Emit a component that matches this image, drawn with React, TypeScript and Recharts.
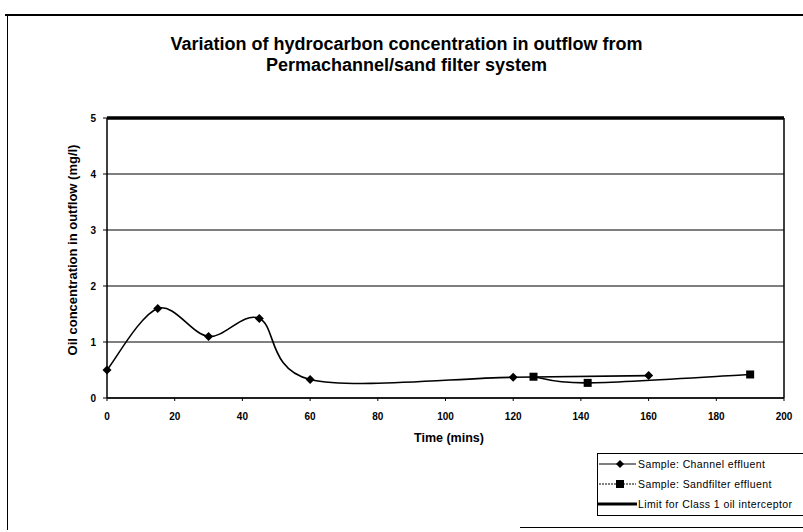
import React from 'react';
import { LineChart, Line, XAxis, YAxis, CartesianGrid, ReferenceLine, Legend } from 'recharts';

const channelTime = [0, 15, 30, 45, 60, 120, 160];
const channelConc = [0.5, 1.6, 1.1, 1.42, 0.33, 0.37, 0.4];
const sandTime = [126, 142, 190];
const sandConc = [0.38, 0.27, 0.42];
const limitTime = [0, 200];
const limitConc = [5, 5];
const xTicks = [0, 20, 40, 60, 80, 100, 120, 140, 160, 180, 200];
const yTicks = [0, 1, 2, 3, 4, 5];
const seriesNames = ['Sample: Channel effluent', 'Sample: Sandfilter effluent', 'Limit for Class 1 oil interceptor'];
const titleLines = ['Variation of hydrocarbon concentration in outflow from', 'Permachannel/sand filter system'];

const channelData = channelTime.map((t, i) => ({ t, v: channelConc[i] }));
const sandData = sandTime.map((t, i) => ({ t, v: sandConc[i] }));
const limitData = limitTime.map((t, i) => ({ t, v: limitConc[i] }));

const FONT = '"Liberation Sans", Arial, sans-serif';

// Excel-like smoothed curve (Catmull-Rom style Bezier)
function excelSmooth(context: any) {
  let pts: number[][] = [];
  return {
    areaStart() {},
    areaEnd() {},
    lineStart() { pts = []; },
    point(x: number, y: number) { pts.push([+x, +y]); },
    lineEnd() {
      const n = pts.length;
      if (!n) return;
      context.moveTo(pts[0][0], pts[0][1]);
      for (let i = 0; i < n - 1; i++) {
        const p0 = pts[i - 1] || pts[i];
        const p1 = pts[i];
        const p2 = pts[i + 1];
        const p3 = pts[i + 2] || p2;
        context.bezierCurveTo(
          p1[0] + (p2[0] - p0[0]) / 6, p1[1] + (p2[1] - p0[1]) / 6,
          p2[0] - (p3[0] - p1[0]) / 6, p2[1] - (p3[1] - p1[1]) / 6,
          p2[0], p2[1]
        );
      }
    },
  };
}

const Diamond = (props: any) => {
  const { cx, cy } = props;
  if (cx == null || cy == null) return null;
  const r = 4.5;
  return <polygon key={`d-${cx}-${cy}`} points={`${cx},${cy - r} ${cx + r},${cy} ${cx},${cy + r} ${cx - r},${cy}`} fill="#000" />;
};
const Square = (props: any) => {
  const { cx, cy } = props;
  if (cx == null || cy == null) return null;
  const s = 8;
  return <rect key={`s-${cx}-${cy}`} x={cx - s / 2} y={cy - s / 2} width={s} height={s} fill="#000" />;
};

const LegendBox = () => (
  <div style={{ border: '1px solid #000', background: '#fff', width: 260, height: 63, fontFamily: FONT, fontSize: 10.5, letterSpacing: 0.4, color: '#000', boxSizing: 'border-box', overflow: 'hidden' }}>
    <div style={{ marginTop: 0 }}>
      {seriesNames.map((name, i) => (
        <div key={name} style={{ display: 'flex', alignItems: 'center', height: 20, whiteSpace: 'nowrap' }}>
          <svg width={39} height={10} style={{ flex: 'none' }}>
            {i === 2 ? (
              <line x1={0} y1={5} x2={39} y2={5} stroke="#000" strokeWidth={3} />
            ) : (
              <line x1={1} y1={5} x2={38} y2={5} stroke="#000" strokeWidth={1.2} strokeDasharray={i === 1 ? '2 1' : undefined} />
            )}
            {i === 0 && <polygon points="22,1 26,5 22,9 18,5" fill="#000" />}
            {i === 1 && <rect x={18} y={1} width={8} height={8} fill="#000" />}
          </svg>
          <span style={{ marginLeft: 1 }}>{name}</span>
        </div>
      ))}
    </div>
  </div>
);

const YLabel = () => (
  <text x={77} y={250} transform="rotate(-90, 77, 250)" textAnchor="middle" fontFamily={FONT} fontWeight="bold" fontSize={13} fill="#000">
    Oil concentration in outflow (mg/l)
  </text>
);
const XLabel = () => (
  <text x={449} y={442} textAnchor="middle" fontFamily={FONT} fontWeight="bold" fontSize={12.5} fill="#000">
    Time (mins)
  </text>
);

export default function App() {
  return (
    <div style={{ position: 'absolute', left: 0, top: 0, width: 803, height: 532, overflow: 'hidden', background: '#fff' }}>
      {/* scanned page frame */}
      <div style={{ position: 'absolute', left: 5, top: 14, width: 798, height: 2, background: '#000' }} />
      <div style={{ position: 'absolute', left: 7, top: 15, width: 1, height: 515, background: '#000' }} />
      <div style={{ position: 'absolute', left: 520, top: 527, width: 283, height: 1, background: '#000' }} />
      <div style={{ position: 'absolute', left: 0, top: 34, width: 803, textAlign: 'center', fontFamily: FONT, fontWeight: 'bold', fontSize: 18, lineHeight: '21px', color: '#000' }}>
        <div style={{ paddingLeft: 10 }}>{titleLines[0]}</div>
        <div style={{ paddingLeft: 10 }}>{titleLines[1]}</div>
      </div>
      <div style={{ position: 'absolute', left: 0, top: 0 }}>
        <LineChart width={803} height={532} margin={{ top: 118, right: 19, bottom: 104, left: 0 }}>
          <CartesianGrid horizontal vertical={false} stroke="#000" strokeWidth={1} />
          <XAxis
            type="number"
            dataKey="t"
            domain={[0, 200]}
            ticks={xTicks}
            height={30}
            tickSize={3}
            tickMargin={12}
            axisLine={{ stroke: '#000', strokeWidth: 1.5 }}
            tickLine={{ stroke: '#000' }}
            tick={{ fontFamily: FONT, fontSize: 10, fontWeight: 'bold', fill: '#000' }}
            label={<XLabel />}
          />
          <YAxis
            type="number"
            domain={[0, 5]}
            ticks={yTicks}
            width={107}
            tickSize={4}
            tickMargin={7}
            axisLine={{ stroke: '#000', strokeWidth: 1.5 }}
            tickLine={{ stroke: '#000' }}
            tick={{ fontFamily: FONT, fontSize: 10, fontWeight: 'bold', fill: '#000' }}
            label={<YLabel />}
          />
          <ReferenceLine x={200} stroke="#000" strokeWidth={1.5} />
          <Line data={limitData} dataKey="v" name={seriesNames[2]} type="linear" stroke="#000" strokeWidth={3.5} dot={false} isAnimationActive={false} />
          <Line data={channelData} dataKey="v" name={seriesNames[0]} type={excelSmooth as any} stroke="#000" strokeWidth={1.6} dot={<Diamond />} isAnimationActive={false} />
          <Line data={sandData} dataKey="v" name={seriesNames[1]} type={excelSmooth as any} stroke="#000" strokeWidth={1.6} dot={<Square />} isAnimationActive={false} />
          <Legend
            layout="vertical"
            align="center"
            verticalAlign="middle"
            content={<LegendBox />}
            wrapperStyle={{ position: 'absolute', left: 597, top: 453, width: 260, height: 63 }}
          />
        </LineChart>
      </div>
    </div>
  );
}
